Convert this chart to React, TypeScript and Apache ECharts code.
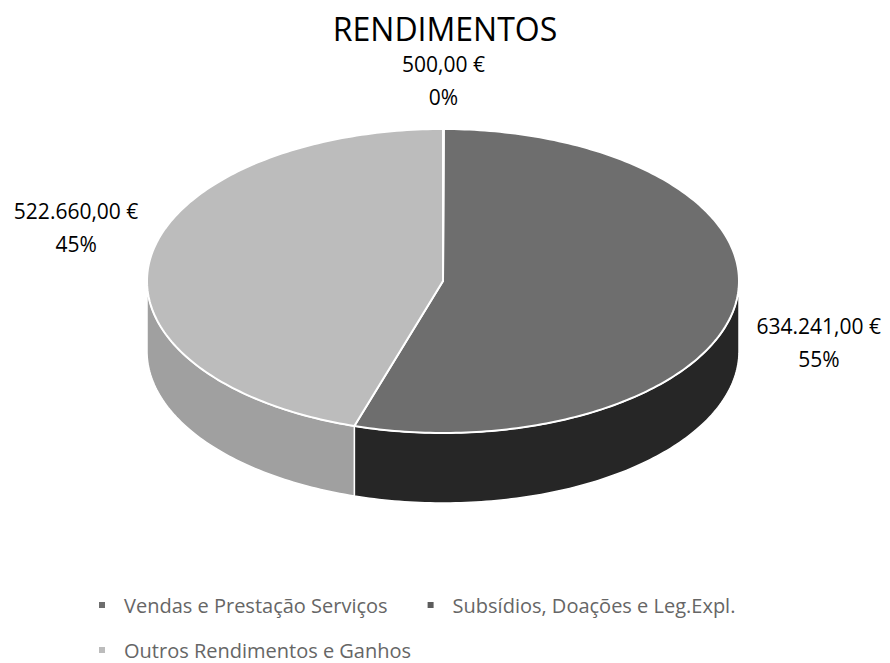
import React, { useEffect, useRef } from 'react';
import * as echarts from 'echarts';

// ---- data ----
const categories = [
  'Vendas e Prestação Serviços',
  'Subsídios, Doações e Leg.Expl.',
  'Outros Rendimentos e Ganhos',
];
const values = [634241, 500, 522660];
// order in which slices are laid clockwise from 12 o'clock
const drawOrder = [1, 0, 2];
const titleText = 'RENDIMENTOS';

// ---- styles ----
const topColors = ['#6e6e6e', '#5c5c5c', '#bcbcbc'];
const sideColors = ['#262626', '#262626', '#a0a0a0'];

// ---- layout ----
const W = 890;
const H = 663;
const CX = 443;
const CY = 281;
const RX = 296;
const RY = 152;
const DEPTH = 70;
const LABEL_FONT = 21;
const LABEL_LINE = 33;
const LABEL_GAP = 18;
const labelNudge = [
  [4, -5],
  [0, 2],
  [5, -23],
];

const total = values.reduce((a, b) => a + b, 0);
const angles: { start: number; end: number }[] = [];
{
  let acc = 0;
  for (const i of drawOrder) {
    const s = (acc / total) * 360;
    acc += values[i];
    angles[i] = { start: s, end: (acc / total) * 360 };
  }
}

function fmtEuro(v: number) {
  const [int, dec] = v.toFixed(2).split('.');
  return int.replace(/\B(?=(\d{3})+(?!\d))/g, '.') + ',' + dec + ' €';
}
function fmtPct(v: number) {
  return Math.round((v / total) * 100) + '%';
}

function pt(deg: number, dy = 0): number[] {
  const r = (deg * Math.PI) / 180;
  return [CX + RX * Math.sin(r), CY - RY * Math.cos(r) + dy];
}
function arc(a: number, b: number, dy = 0): number[][] {
  const n = Math.max(1, Math.ceil(Math.abs(b - a)));
  const out: number[][] = [];
  for (let k = 0; k <= n; k++) out.push(pt(a + ((b - a) * k) / n, dy));
  return out;
}

let measureCtx: CanvasRenderingContext2D | null = null;
function textWidth(t: string, font: string) {
  if (!measureCtx) measureCtx = document.createElement('canvas').getContext('2d');
  if (!measureCtx) return t.length * 10;
  measureCtx.font = font;
  return measureCtx.measureText(t).width;
}

function labelText(text: string, x: number, y: number, font: string) {
  return {
    type: 'text',
    z2: 20,
    style: {
      text,
      x,
      y,
      fill: '#000000',
      font,
      align: 'center',
      verticalAlign: 'middle',
      textAlign: 'center',
      textVerticalAlign: 'middle',
    },
  };
}

function renderSlice(i: number) {
  const { start, end } = angles[i];
  const children: any[] = [];
  // side wall (front half only)
  const a = Math.max(start, 90);
  const b = Math.min(end, 270);
  if (a < b) {
    const pts = arc(a, b, 0).concat(arc(b, a, DEPTH));
    children.push({
      type: 'polygon',
      shape: { points: pts },
      style: { fill: sideColors[i], stroke: '#ffffff', lineWidth: 1.5, lineJoin: 'round' },
    });
  }
  // top face
  const topPts = [[CX, CY]].concat(arc(start, end, 0));
  children.push({
    type: 'polygon',
    z2: 10,
    shape: { points: topPts },
    style: { fill: topColors[i], stroke: '#ffffff', lineWidth: 2, lineJoin: 'round' },
  });
  // label
  const mid = (start + end) / 2;
  const r = (mid * Math.PI) / 180;
  const s = Math.sin(r);
  const c = Math.cos(r);
  const line1 = fmtEuro(values[i]);
  const line2 = fmtPct(values[i]);
  const font = `${LABEL_FONT}px "Open Sans"`;
  const hw = Math.max(textWidth(line1, font), textWidth(line2, font)) / 2;
  const hh = LABEL_LINE;
  const p = pt(mid, c < 0 ? DEPTH / 2 : 0);
  const lx = p[0] + s * (LABEL_GAP + hw) + labelNudge[i][0];
  const ly = p[1] - c * (LABEL_GAP + hh) + labelNudge[i][1];
  children.push(labelText(line1, lx, ly - LABEL_LINE / 2, font));
  children.push(labelText(line2, lx, ly + LABEL_LINE / 2, font));
  return { type: 'group', children };
}

export default function App() {
  const ref = useRef<HTMLDivElement>(null);
  useEffect(() => {
    if (!ref.current) return;
    const chart = echarts.init(ref.current, undefined, { renderer: 'svg' });
    const legendCommon = {
      left: 99,
      orient: 'horizontal',
      icon: 'rect',
      itemWidth: 6,
      itemHeight: 6,
      itemGap: 40,
      padding: 0,
      selectedMode: false,
      textStyle: {
        fontFamily: 'Open Sans',
        fontSize: 20,
        lineHeight: 22,
        color: '#666666',
        padding: [0, 0, 0, 14],
      },
    };
    chart.setOption({
      animation: false,
      backgroundColor: '#ffffff',
      title: {
        text: titleText,
        left: 'center',
        top: 7,
        textStyle: { fontFamily: 'Open Sans', fontSize: 32, fontWeight: 'normal', color: '#000000' },
      },
      legend: [
        { ...legendCommon, top: 594, data: [categories[0], categories[1]] },
        { ...legendCommon, top: 639, data: [categories[2]] },
      ],
      series: categories.map((name, i) => ({
        type: 'custom',
        name,
        coordinateSystem: 'none',
        itemStyle: { color: topColors[i] },
        data: [[values[i]]],
        renderItem: () => renderSlice(i),
      })),
    });
    return () => chart.dispose();
  }, []);
  return (
    <div
      ref={ref}
      style={{ position: 'fixed', left: 0, top: 0, width: W, height: H }}
    />
  );
}
